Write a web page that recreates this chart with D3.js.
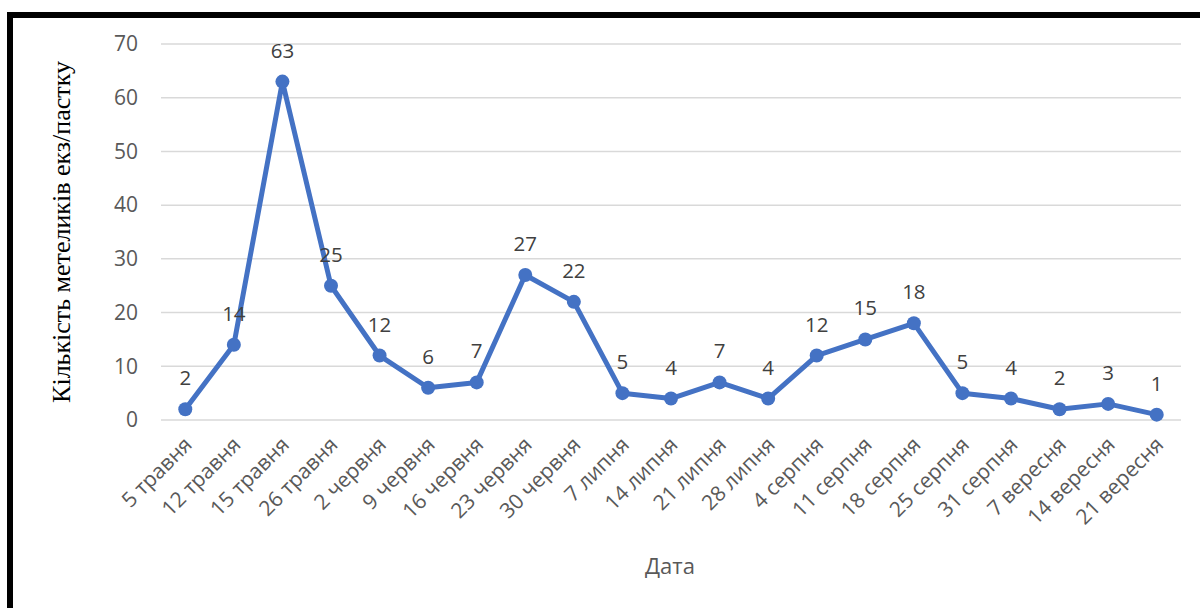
<!DOCTYPE html>
<html>
<head>
<meta charset="utf-8">
<script src="https://cdn.jsdelivr.net/npm/d3@7"></script>
<style>
  body { margin: 0; background: #fff; }
  svg { display: block; }
</style>
</head>
<body>
<div id="chart"></div>
<script>
const dates = ["5 травня", "12 травня", "15 травня", "26 травня", "2 червня", "9 червня",
  "16 червня", "23 червня", "30 червня", "7 липня", "14 липня", "21 липня", "28 липня",
  "4 серпня", "11 серпня", "18 серпня", "25 серпня", "31 серпня", "7 вересня",
  "14 вересня", "21 вересня"]
const counts = [2, 14, 63, 25, 12, 6, 7, 27, 22, 5, 4, 7, 4, 12, 15, 18, 5, 4, 2, 3, 1]
const yTicks = [0, 10, 20, 30, 40, 50, 60, 70]

const width = 1200
const height = 608
const plotLeft = 161
const plotRight = 1181
const plotTop = 44
const plotBottom = 420

const svg = d3.select("#chart")
  .append("svg")
    .attr("width", width)
    .attr("height", height)

// Frame (top and left thick lines)
svg.append("rect")
    .attr("x", 10).attr("y", 15)
    .attr("width", width + 20).attr("height", height + 20)
    .attr("fill", "none")
    .attr("stroke", "#000")
    .attr("stroke-width", 6)

const xScale = d3.scaleBand()
  .domain(dates)
  .range([plotLeft, plotRight])

const yScale = d3.scaleLinear()
  .domain([0, 70])
  .range([plotBottom, plotTop])

// Gridlines
svg.append("g")
  .selectAll("line")
  .data(yTicks)
  .enter()
  .append("line")
    .attr("x1", plotLeft)
    .attr("x2", plotRight)
    .attr("y1", d => yScale(d))
    .attr("y2", d => yScale(d))
    .attr("stroke", "#d9d9d9")
    .attr("stroke-width", 1.5)

// Y axis
const yAxis = d3.axisLeft(yScale).tickValues(yTicks).tickSize(0).tickPadding(23)
const yG = svg.append("g")
    .attr("transform", "translate(" + plotLeft + ",0)")
    .call(yAxis)
yG.select(".domain").remove()
yG.selectAll("text")
    .attr("font-family", "'Open Sans', sans-serif")
    .attr("font-size", 21)
    .attr("fill", "#595959")

// X axis
const xAxis = d3.axisBottom(xScale).tickSize(0)
const xG = svg.append("g")
    .attr("transform", "translate(0," + plotBottom + ")")
    .call(xAxis)
xG.select(".domain").remove()
xG.selectAll("text")
    .attr("font-family", "'Open Sans', sans-serif")
    .attr("font-size", 21)
    .attr("fill", "#595959")
    .attr("text-anchor", "end")
    .attr("dy", 0)
    .attr("y", 0)
    .attr("transform", "translate(8,26)rotate(-45)")

// Axis titles
svg.append("text")
    .text("Дата")
    .attr("x", 670)
    .attr("y", 574)
    .attr("text-anchor", "middle")
    .attr("font-family", "'Open Sans', sans-serif")
    .attr("font-size", 22)
    .attr("fill", "#595959")

svg.append("text")
    .text("Кількість метеликів екз/пастку")
    .attr("text-anchor", "middle")
    .attr("font-family", "'Liberation Serif', 'Times New Roman', serif")
    .attr("font-size", 26)
    .attr("fill", "#000")
    .attr("transform", "translate(70,232)rotate(-90)")

// Line
const cx = d => xScale(d) + xScale.bandwidth() / 2
const line = d3.line()
  .x((d, i) => cx(dates[i]))
  .y(d => yScale(d))

svg.append("path")
    .datum(counts)
    .attr("d", line)
    .attr("fill", "none")
    .attr("stroke", "#4472C4")
    .attr("stroke-width", 5)
    .attr("stroke-linejoin", "round")

svg.selectAll("circle.dot")
  .data(counts)
  .enter()
  .append("circle")
    .attr("class", "dot")
    .attr("cx", (d, i) => cx(dates[i]))
    .attr("cy", d => yScale(d))
    .attr("r", 7)
    .attr("fill", "#4472C4")

// Data labels
svg.selectAll("text.label")
  .data(counts)
  .enter()
  .append("text")
    .attr("class", "label")
    .text(d => d)
    .attr("x", (d, i) => cx(dates[i]))
    .attr("y", d => yScale(d) - 24)
    .attr("text-anchor", "middle")
    .attr("font-family", "'Open Sans', sans-serif")
    .attr("font-size", 20.5)
    .attr("fill", "#404040")
</script>
</body>
</html>
